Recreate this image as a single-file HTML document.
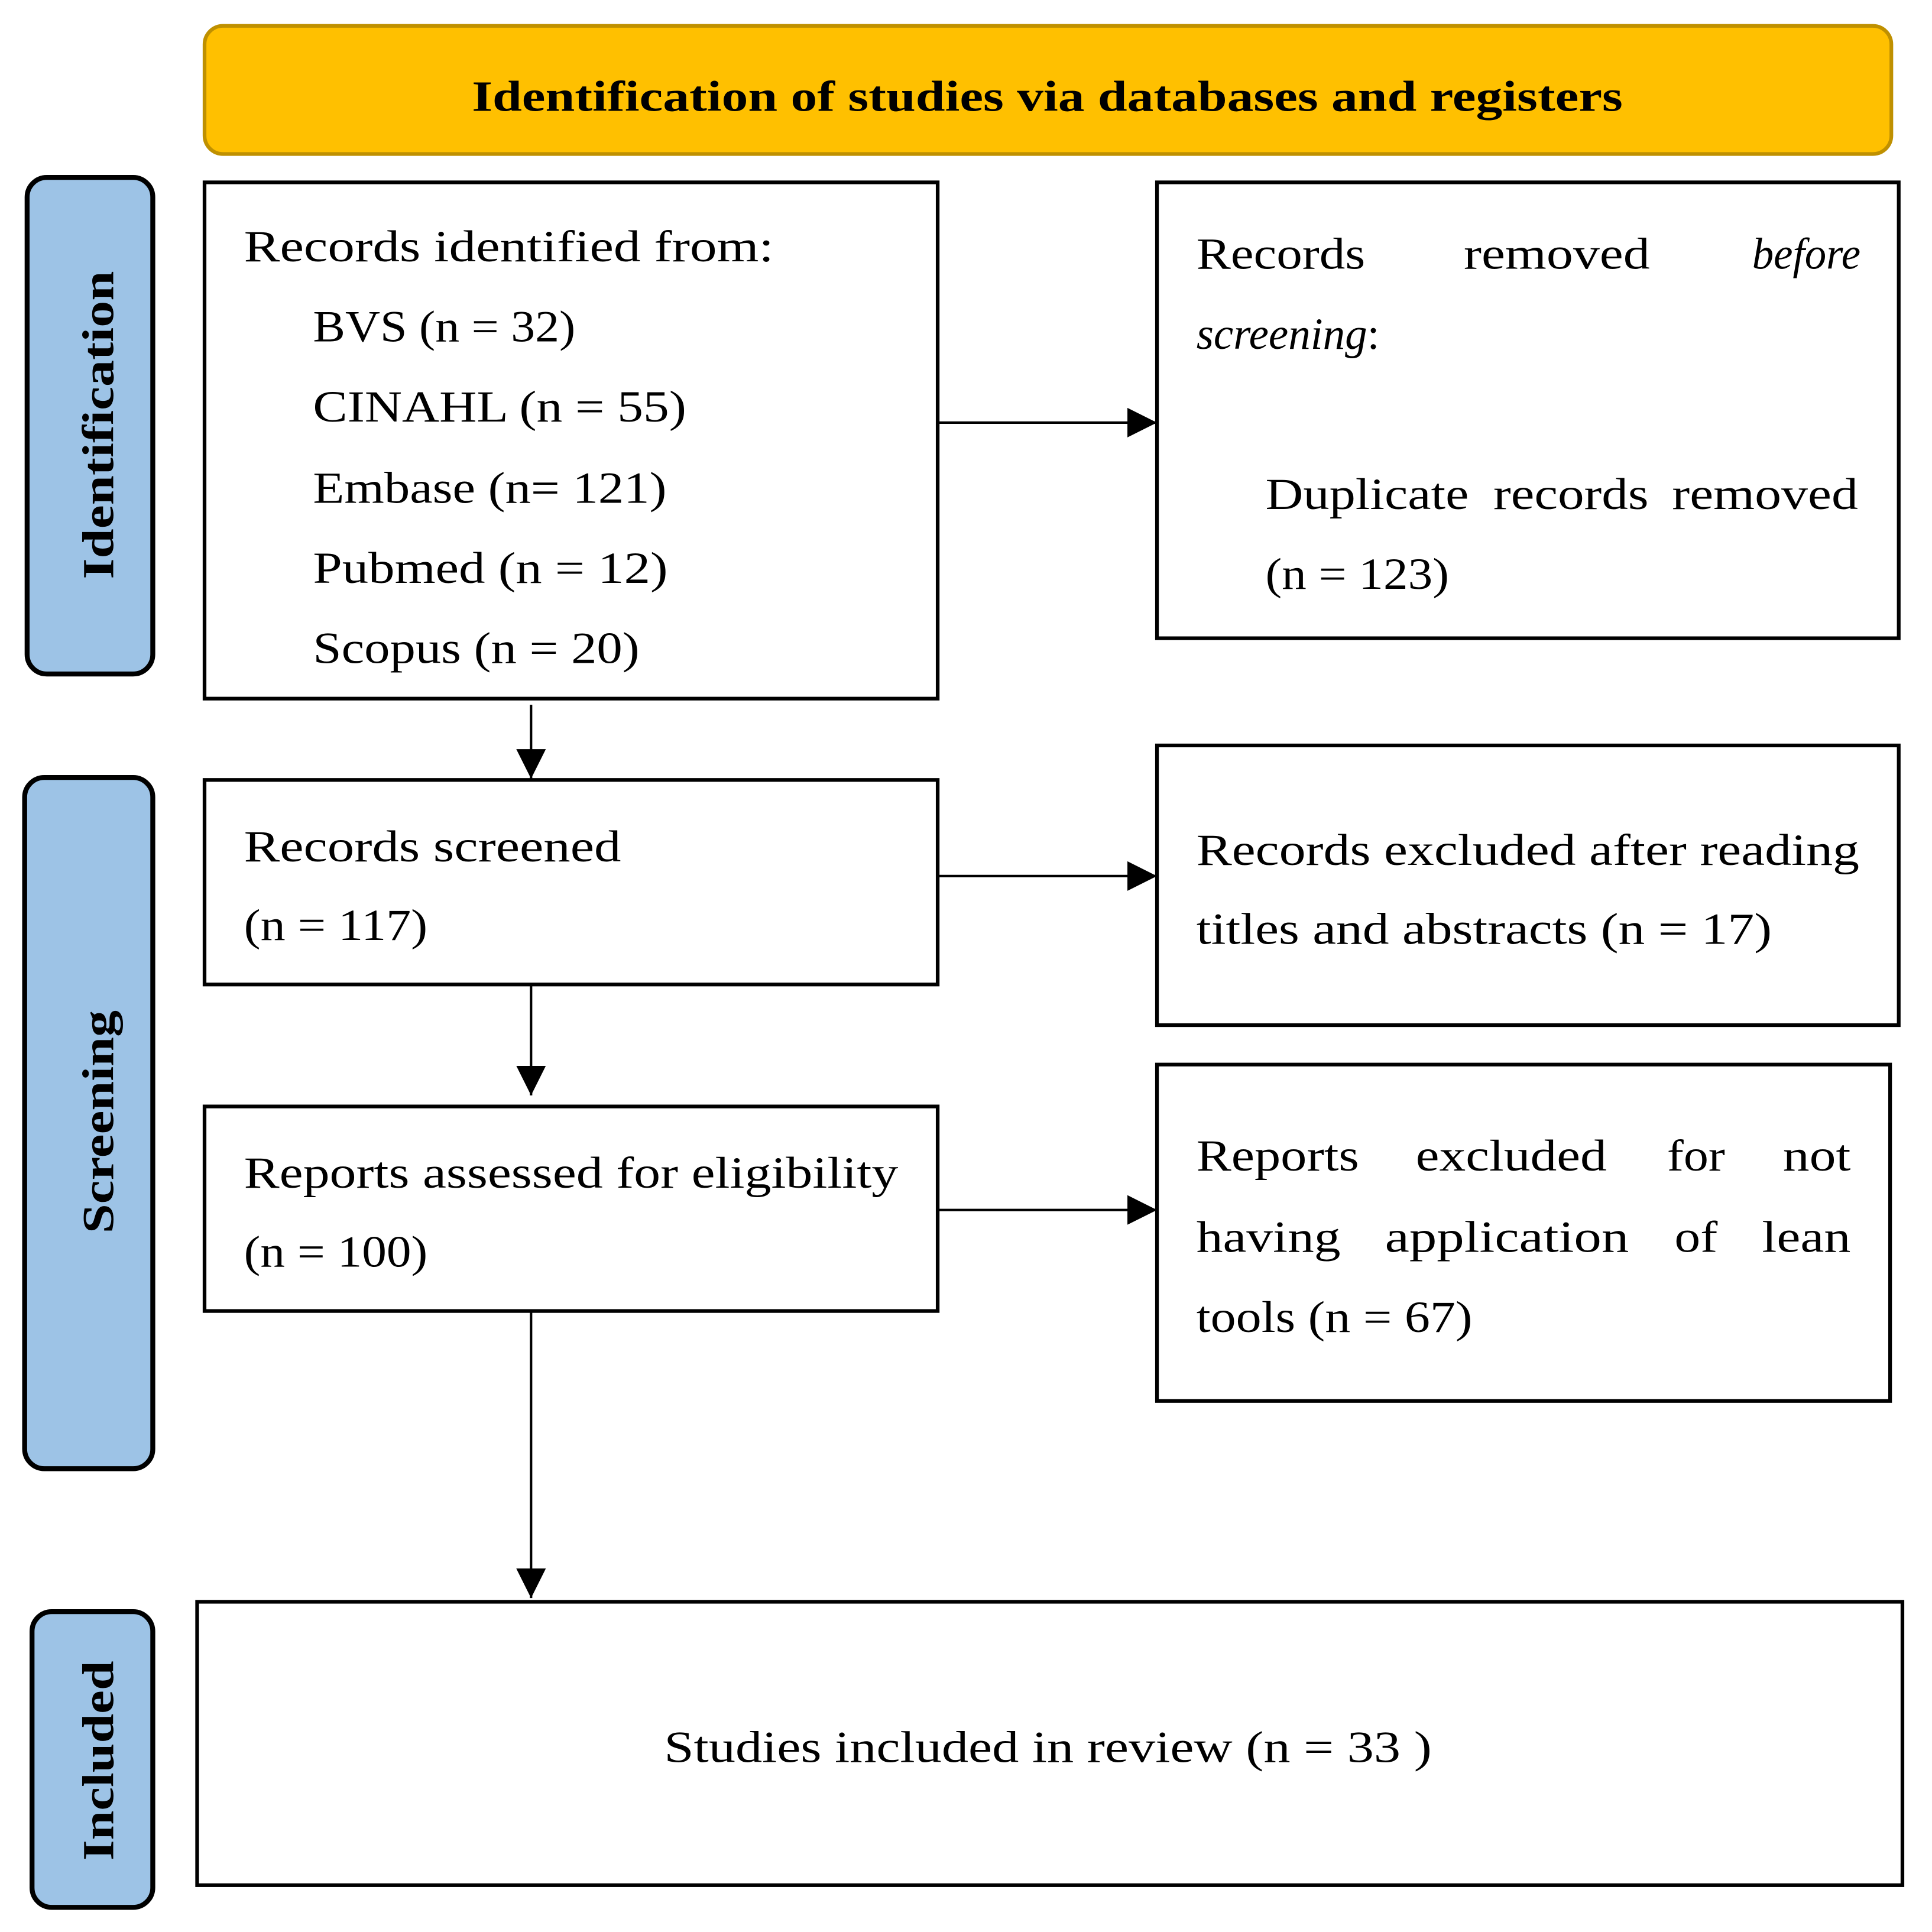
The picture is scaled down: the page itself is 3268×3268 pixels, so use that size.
<!DOCTYPE html>
<html><head><meta charset="utf-8"><style>html,body{margin:0;padding:0;background:#fff}svg{display:block}</style></head>
<body>
<svg xmlns="http://www.w3.org/2000/svg" width="3268" height="3268" viewBox="0 0 1568 1568" font-family="'Liberation Serif', serif" font-size="36">
<defs>
<marker id="b" viewBox="0 0 10 10" markerWidth="24" markerHeight="24" refX="10" refY="5" orient="auto" markerUnits="userSpaceOnUse"><path d="M0,0 L10,5 L0,10 z" fill="#000"/></marker></defs>
<rect x="166" y="21" width="1369" height="104" rx="15" fill="#FFC000" stroke="#BF9000" stroke-width="3"/>
<text x="383" y="90" textLength="934" lengthAdjust="spacingAndGlyphs" font-weight="bold" font-size="35">Identification of studies via databases and registers</text>
<rect x="22" y="144" width="102" height="403" rx="16" fill="#9DC3E6" stroke="#000" stroke-width="4"/>
<text transform="translate(92,470) rotate(-90)" textLength="250" lengthAdjust="spacingAndGlyphs" font-weight="bold" font-size="36">Identification</text>
<rect x="20" y="631" width="104" height="561" rx="16" fill="#9DC3E6" stroke="#000" stroke-width="4"/>
<text transform="translate(92,1001) rotate(-90)" textLength="181" lengthAdjust="spacingAndGlyphs" font-weight="bold" font-size="36">Screening</text>
<rect x="26" y="1308" width="98" height="240" rx="16" fill="#9DC3E6" stroke="#000" stroke-width="4"/>
<text transform="translate(92,1510) rotate(-90)" textLength="162" lengthAdjust="spacingAndGlyphs" font-weight="bold" font-size="36">Included</text>
<g fill="#fff" stroke="#000" stroke-width="3">
<rect x="166" y="148" width="595" height="419"/>
<rect x="939" y="148" width="602" height="370"/>
<rect x="166" y="633" width="595" height="166"/>
<rect x="939" y="605" width="602" height="227"/>
<rect x="166" y="898" width="595" height="166"/>
<rect x="939" y="864" width="595" height="273"/>
<rect x="160" y="1300" width="1384" height="230"/>
</g>
<g stroke="#000" stroke-width="2">
<line x1="761" y1="343" x2="939" y2="343" marker-end="url(#b)"/>
<line x1="761" y1="711" x2="939" y2="711" marker-end="url(#b)"/>
<line x1="761" y1="982" x2="939" y2="982" marker-end="url(#b)"/>
<line x1="431" y1="572" x2="431" y2="632" marker-end="url(#b)"/>
<line x1="431" y1="800" x2="431" y2="889" marker-end="url(#b)"/>
<line x1="431" y1="1064" x2="431" y2="1297" marker-end="url(#b)"/>
</g>
<g lengthAdjust="spacingAndGlyphs">
<text x="198" y="212" textLength="430" lengthAdjust="spacingAndGlyphs">Records identified from:</text>
<text x="254" y="277" textLength="213" lengthAdjust="spacingAndGlyphs">BVS (n = 32)</text>
<text x="254" y="342" textLength="303" lengthAdjust="spacingAndGlyphs">CINAHL (n = 55)</text>
<text x="254" y="408" textLength="287" lengthAdjust="spacingAndGlyphs">Embase (n= 121)</text>
<text x="254" y="473" textLength="288" lengthAdjust="spacingAndGlyphs">Pubmed (n = 12)</text>
<text x="254" y="538" textLength="265" lengthAdjust="spacingAndGlyphs">Scopus (n = 20)</text>
<text x="971" y="218" textLength="137" lengthAdjust="spacingAndGlyphs">Records</text>
<text x="1188" y="218" textLength="151" lengthAdjust="spacingAndGlyphs">removed</text>
<text x="1422" y="218" textLength="88" lengthAdjust="spacingAndGlyphs" font-style="italic">before</text>
<text x="971" y="283"><tspan font-style="italic">screening</tspan>:</text>
<text x="1027" y="413" textLength="165" lengthAdjust="spacingAndGlyphs">Duplicate</text>
<text x="1212" y="413" textLength="126" lengthAdjust="spacingAndGlyphs">records</text>
<text x="1357" y="413" textLength="151" lengthAdjust="spacingAndGlyphs">removed</text>
<text x="1027" y="478" textLength="149" lengthAdjust="spacingAndGlyphs">(n = 123)</text>
<text x="198" y="699" textLength="306" lengthAdjust="spacingAndGlyphs">Records screened</text>
<text x="198" y="763" textLength="149" lengthAdjust="spacingAndGlyphs">(n = 117)</text>
<text x="971" y="702" textLength="538" lengthAdjust="spacingAndGlyphs">Records excluded after reading</text>
<text x="971" y="766" textLength="467" lengthAdjust="spacingAndGlyphs">titles and abstracts (n = 17)</text>
<text x="198" y="964" textLength="531" lengthAdjust="spacingAndGlyphs">Reports assessed for eligibility</text>
<text x="198" y="1028" textLength="149" lengthAdjust="spacingAndGlyphs">(n = 100)</text>
<text x="971" y="950" textLength="132" lengthAdjust="spacingAndGlyphs">Reports</text>
<text x="1149" y="950" textLength="155" lengthAdjust="spacingAndGlyphs">excluded</text>
<text x="1353" y="950" textLength="47" lengthAdjust="spacingAndGlyphs">for</text>
<text x="1447" y="950" textLength="55" lengthAdjust="spacingAndGlyphs">not</text>
<text x="971" y="1016" textLength="117" lengthAdjust="spacingAndGlyphs">having</text>
<text x="1124" y="1016" textLength="198" lengthAdjust="spacingAndGlyphs">application</text>
<text x="1359" y="1016" textLength="35" lengthAdjust="spacingAndGlyphs">of</text>
<text x="1430" y="1016" textLength="72" lengthAdjust="spacingAndGlyphs">lean</text>
<text x="971" y="1081" textLength="224" lengthAdjust="spacingAndGlyphs">tools (n = 67)</text>
<text x="539" y="1430" textLength="623" lengthAdjust="spacingAndGlyphs">Studies included in review (n = 33 )</text>
</g>
</svg>
</body></html>
